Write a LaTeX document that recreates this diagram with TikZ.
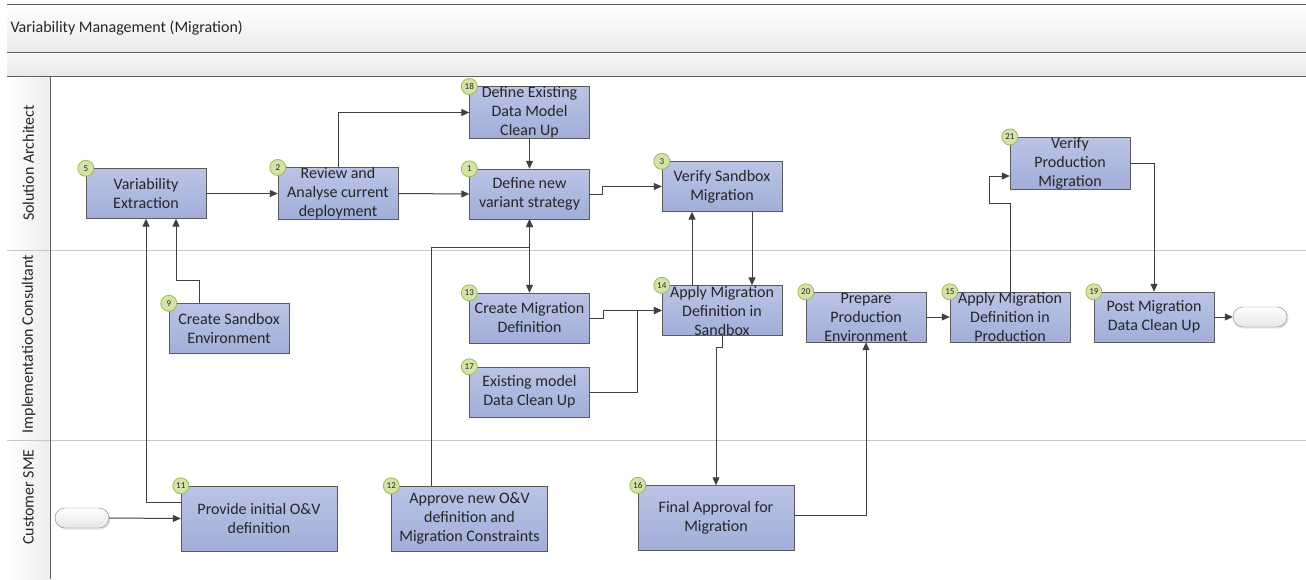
\documentclass[tikz,border=0pt]{standalone}
\usepackage{fontspec}
\setmainfont{Carlito}
\usetikzlibrary{arrows.meta, positioning, shapes.misc, shadows}

\definecolor{tasktop}{HTML}{BAC4E6}
\definecolor{taskbottom}{HTML}{A2AED9}
\definecolor{taskborder}{HTML}{5A5A5A}
\definecolor{tasktext}{HTML}{262626}
\definecolor{badgefill}{HTML}{D6E3A6}
\definecolor{badgeborder}{HTML}{9BBB59}
\definecolor{termborder}{HTML}{7F7F7F}
\definecolor{termbottom}{HTML}{E6E6E6}
\definecolor{flowline}{HTML}{404040}
\definecolor{bandline}{HTML}{5F5F5F}
\definecolor{laneline}{HTML}{C8C8C8}

\begin{document}
\begin{tikzpicture}[x=1pt, y=-1pt,
    % Define styles
    task/.style={rectangle, draw=taskborder, top color=tasktop, bottom color=taskbottom, minimum width=120pt, minimum height=50pt, inner sep=0pt, align=center, text=tasktext, font=\fontsize{16}{19}\selectfont},
    widetask/.style={task, minimum width=156pt, minimum height=65pt},
    badge/.style={circle, draw=badgeborder, fill=badgefill, line width=0.8pt, minimum size=16pt, inner sep=0pt, text=tasktext, font=\fontsize{9}{9}\selectfont},
    terminal/.style={rounded rectangle, draw=termborder, top color=white, bottom color=termbottom, minimum width=54pt, minimum height=20pt, inner sep=0pt, drop shadow={opacity=0.2, shadow xshift=1.5pt, shadow yshift=-1.5pt}},
    lanename/.style={rotate=90, text=tasktext, font=\fontsize{16}{18}\selectfont},
    line/.style={draw=flowline, line width=1pt},
    arrow/.style={line, -{Triangle[length=8pt, width=7pt]}},
    biarrow/.style={line, {Triangle[length=8pt, width=7pt]}-{Triangle[length=8pt, width=7pt]}}
]
\useasboundingbox (0,0) rectangle (1306,579);

% Pool header and lanes
\shade[top color=white, bottom color=black!8] (7,4) rectangle (1306,52);
\shade[top color=black!2, bottom color=black!9] (7,52) rectangle (1306,76);
\shade[left color=white, right color=black!7] (7,76) rectangle (50,579);
\draw[bandline] (7,4) -- (1306,4);
\draw[bandline] (7,52) -- (1306,52);
\draw[bandline] (7,76) -- (1306,76);
\draw[laneline] (7,250) -- (1306,250);
\draw[laneline] (7,440) -- (1306,440);
\draw[bandline] (50,76) -- (50,579);

\node[anchor=west, text=tasktext, font=\fontsize{16}{18}\selectfont] (title) at (7,28) {Variability Management (Migration)};
\node[lanename] (architect) at (28.5,163) {Solution Architect};
\node[lanename] (consultant) at (28.5,344) {Implementation Consultant};
\node[lanename] (sme) at (28.5,497) {Customer SME};

% Solution Architect tasks
\node[task] (t5) at (146,193.5) {Variability\\Extraction};
\node[task] (t2) at (338,193.5) {Review and\\Analyse current\\deployment};
\node[task] (t18) at (529.5,112.5) {Define Existing\\Data Model\\Clean Up};
\node[task] (t1) at (529.5,194) {Define new\\variant strategy};
\node[task] (t3) at (722,186.5) {Verify Sandbox\\Migration};
\node[task] (t21) at (1070,163) {Verify\\Production\\Migration};

% Implementation Consultant tasks
\node[task] (t9) at (229,328.5) {Create Sandbox\\Environment};
\node[task] (t13) at (529.5,318) {Create Migration\\Definition};
\node[task] (t17) at (529.5,392) {Existing model\\Data Clean Up};
\node[task] (t14) at (722,310.5) {Apply Migration\\Definition in\\Sandbox};
\node[task] (t20) at (866,317) {Prepare\\Production\\Environment};
\node[task] (t15) at (1010,317) {Apply Migration\\Definition in\\Production};
\node[task] (t19) at (1154,317) {Post Migration\\Data Clean Up};
\node[terminal] (stop) at (1260,317) {};

% Customer SME tasks
\node[terminal] (start) at (82,518) {};
\node[widetask] (t11) at (259,518.5) {Provide initial O\&V\\definition};
\node[widetask] (t12) at (469.5,518.5) {Approve new O\&V\\definition and\\Migration Constraints};
\node[widetask] (t16) at (716,518) {Final Approval for\\Migration};

% Step numbers
\foreach \n in {5,2,18,1,3,21,9,13,17,14,20,15,19,11,12,16}
    \node[badge] (b\n) at (t\n.north west) {\n};

% Connect the tasks
\draw[arrow] (start.east) -- (t11.west);
\draw[arrow] ([yshift=16pt]t11.west) -| (t5.south);
\draw[arrow] ([xshift=-30pt]t9.north) -- ++(0,-23) -| ([xshift=30pt]t5.south);
\draw[arrow] (t5.east) -- (t2.west);
\draw[arrow] (t2.north) |- (t18.west);
\draw[arrow] (t2.east) -- (t1.west);
\draw[arrow] (t18.south) -- (t1.north);
\draw[arrow] (t1.east) -- ++(13,0) |- (t3.west);
\draw[biarrow] (t1.south) -- (t13.north);
\draw[arrow] ([xshift=-38.5pt]t12.north) |- ([yshift=-28pt]t1.south) -- (t1.south);
\draw[arrow] (t13.east) -- ++(14,0) |- (t14.west);
\draw[arrow] (t17.east) -- ++(48,0) |- (t14.west);
\draw[arrow] ([xshift=-30pt]t14.north) -- ([xshift=-30pt]t3.south);
\draw[arrow] ([xshift=30pt]t3.south) -- ([xshift=30pt]t14.north);
\draw[arrow] (t14.south) -- ++(0,12) -| (t16.north);
\draw[arrow] ([yshift=3pt]t16.east) -| (t20.south);
\draw[arrow] (t20.east) -- (t15.west);
\draw[arrow] (t15.north) |- ++(-21,-88) |- ([yshift=-13pt]t21.west);
\draw[arrow] (t21.east) -| (t19.north);
\draw[arrow] (t19.east) -- (stop.west);

\end{tikzpicture}
\end{document}
